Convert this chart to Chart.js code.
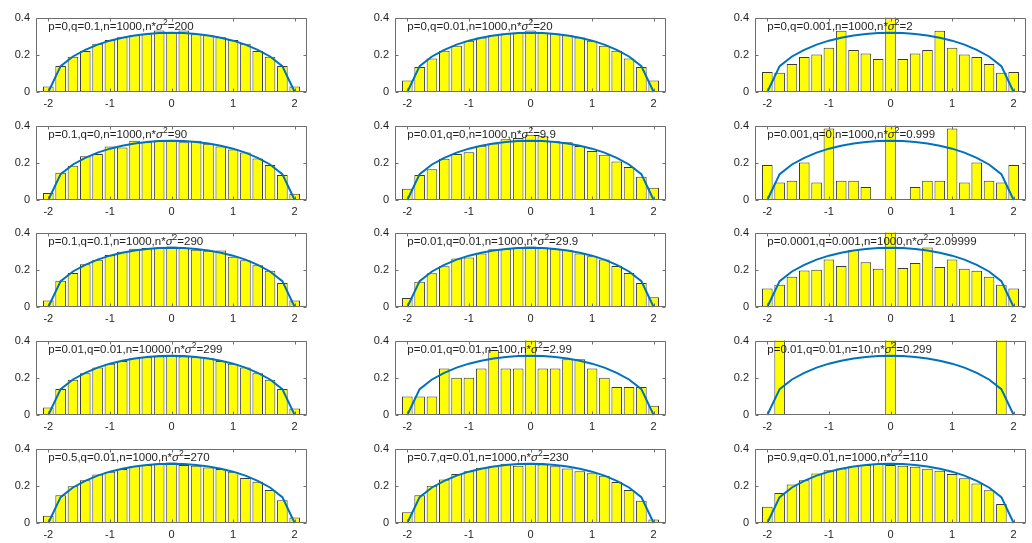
<!DOCTYPE html>
<html>
<head>
<meta charset="utf-8">
<script src="https://cdn.jsdelivr.net/npm/chart.js@4.4.1/dist/chart.umd.min.js"></script>
<style>
  html, body { margin: 0; padding: 0; background: #fff; }
  #figure { position: relative; width: 1032px; height: 543px; overflow: hidden; }
  #figure canvas { position: absolute; }
</style>
</head>
<body>
<div id="figure"></div>
<script>
// bin centres shared by every histogram
const binCenters = [-2, -1.8, -1.6, -1.4, -1.2, -1, -0.8, -0.6, -0.4, -0.2, 0, 0.2, 0.4, 0.6, 0.8, 1, 1.2, 1.4, 1.6, 1.8, 2];
// semicircle density read at the same centres
const semicircle = [0, 0.139, 0.191, 0.227, 0.255, 0.276, 0.292, 0.304, 0.312, 0.317, 0.318, 0.317, 0.312, 0.304, 0.292, 0.276, 0.255, 0.227, 0.191, 0.139, 0];

const xTicks = [-2, -1, 0, 1, 2];
const yTicks = [0, 0.2, 0.4];
const yTickLabels = ['0', '0.2', '0.4'];

// panel parameters, row by row (left to right)
const pVals = ['0', '0', '0', '0.1', '0.01', '0.001', '0.1', '0.01', '0.0001', '0.01', '0.01', '0.01', '0.5', '0.7', '0.9'];
const qVals = ['0.1', '0.01', '0.001', '0', '0', '0', '0.1', '0.01', '0.001', '0.01', '0.01', '0.01', '0.01', '0.01', '0.01'];
const nVals = ['1000', '1000', '1000', '1000', '1000', '1000', '1000', '1000', '1000', '10000', '100', '10', '1000', '1000', '1000'];
const nSigma2 = ['200', '20', '2', '90', '9.9', '0.999', '290', '29.9', '2.09999', '299', '2.99', '0.299', '270', '230', '110'];

// histogram heights (bars above 0.4 are cut by the axes)
const histR1C1 = [0.03, 0.14, 0.19, 0.22, 0.26, 0.28, 0.295, 0.305, 0.31, 0.33, 0.32, 0.33, 0.31, 0.305, 0.295, 0.28, 0.26, 0.22, 0.19, 0.14, 0.03];
const histR1C2 = [0.062, 0.134, 0.18, 0.222, 0.248, 0.276, 0.293, 0.305, 0.314, 0.319, 0.331, 0.319, 0.314, 0.305, 0.293, 0.276, 0.248, 0.222, 0.18, 0.134, 0.062];
const histR1C3 = [0.107, 0.103, 0.15, 0.188, 0.202, 0.238, 0.329, 0.226, 0.207, 0.178, 0.45, 0.178, 0.207, 0.226, 0.329, 0.238, 0.202, 0.188, 0.15, 0.103, 0.107];
const histR2C1 = [0.038, 0.146, 0.184, 0.235, 0.247, 0.287, 0.282, 0.318, 0.311, 0.32, 0.32, 0.311, 0.318, 0.303, 0.287, 0.271, 0.256, 0.223, 0.188, 0.134, 0.033];
const histR2C2 = [0.06, 0.134, 0.165, 0.222, 0.247, 0.257, 0.292, 0.304, 0.327, 0.334, 0.351, 0.343, 0.316, 0.31, 0.29, 0.263, 0.243, 0.207, 0.177, 0.125, 0.066];
const histR2C3 = [0.188, 0.094, 0.104, 0.202, 0.094, 0.385, 0.104, 0.104, 0.07, 0, 0.45, 0, 0.07, 0.104, 0.104, 0.385, 0.094, 0.202, 0.104, 0.094, 0.188];
const histR3C1 = [0.035, 0.141, 0.183, 0.23, 0.254, 0.28, 0.297, 0.313, 0.317, 0.32, 0.325, 0.317, 0.308, 0.303, 0.304, 0.27, 0.252, 0.224, 0.195, 0.129, 0.035];
const histR3C2 = [0.049, 0.136, 0.181, 0.219, 0.261, 0.266, 0.287, 0.311, 0.311, 0.32, 0.325, 0.32, 0.311, 0.308, 0.287, 0.273, 0.256, 0.221, 0.183, 0.129, 0.052];
const histR3C3 = [0.099, 0.12, 0.163, 0.196, 0.2, 0.256, 0.22, 0.306, 0.24, 0.205, 0.45, 0.21, 0.237, 0.32, 0.215, 0.256, 0.205, 0.195, 0.163, 0.12, 0.099];
const histR4C1 = [0.04, 0.14, 0.19, 0.225, 0.255, 0.275, 0.29, 0.305, 0.31, 0.315, 0.318, 0.315, 0.31, 0.305, 0.29, 0.275, 0.255, 0.225, 0.19, 0.14, 0.035];
const histR4C2 = [0.1, 0.1, 0.1, 0.25, 0.2, 0.2, 0.25, 0.35, 0.25, 0.25, 0.45, 0.25, 0.25, 0.3, 0.3, 0.25, 0.2, 0.15, 0.15, 0.15, 0.05];
const histR4C3 = [0, 0.6, 0, 0, 0, 0, 0, 0, 0, 0, 0.6, 0, 0, 0, 0, 0, 0, 0, 0, 0.6, 0];
const histR5C1 = [0.039, 0.149, 0.197, 0.23, 0.261, 0.275, 0.29, 0.305, 0.312, 0.32, 0.325, 0.312, 0.308, 0.298, 0.29, 0.275, 0.242, 0.222, 0.178, 0.122, 0.029];
const histR5C2 = [0.058, 0.149, 0.2, 0.234, 0.263, 0.278, 0.297, 0.305, 0.319, 0.308, 0.319, 0.314, 0.305, 0.293, 0.278, 0.268, 0.254, 0.22, 0.178, 0.119, 0.019];
const histR5C3 = [0.088, 0.161, 0.207, 0.23, 0.266, 0.283, 0.293, 0.305, 0.312, 0.317, 0.312, 0.308, 0.302, 0.292, 0.281, 0.263, 0.241, 0.212, 0.176, 0.102, 0.005];

const histograms = [
  histR1C1, histR1C2, histR1C3,
  histR2C1, histR2C2, histR2C3,
  histR3C1, histR3C2, histR3C3,
  histR4C1, histR4C2, histR4C3,
  histR5C1, histR5C2, histR5C3
];

// layout of the plot boxes in the page
const colLefts = [36, 395, 755];
const rowTops = [15, 123, 230, 338, 446];
const plotW = 271;
const plotH = 77;
const yAxisW = 40;
const xAxisH = 22;
const padTop = 10;
const padRight = 8;

const FONT = '"Liberation Sans", Arial, sans-serif';
const TEXT_COLOR = '#1f1f1f';
const BOX_COLOR = '#6e6e6e';

// box, inward ticks and the panel label, MATLAB style
const axesDecor = {
  id: 'axesDecor',
  afterDatasetsDraw(chart, args, opts) {
    const { ctx, chartArea: a, scales } = chart;
    const xs = scales.x, ys = scales.y;
    const l = Math.round(a.left) + 0.5, r = Math.round(a.right) - 0.5;
    const t = Math.round(a.top) + 0.5, b = Math.round(a.bottom) - 0.5;
    ctx.save();
    ctx.strokeStyle = BOX_COLOR;
    ctx.lineWidth = 1;
    ctx.beginPath();
    ctx.rect(l, t, r - l, b - t);
    const tl = 3;
    xTicks.forEach(v => {
      const px = Math.round(xs.getPixelForValue(v)) + 0.5;
      ctx.moveTo(px, b); ctx.lineTo(px, b - tl);
      ctx.moveTo(px, t); ctx.lineTo(px, t + tl);
    });
    yTicks.forEach(v => {
      const py = Math.round(ys.getPixelForValue(v)) + 0.5;
      ctx.moveTo(l, py); ctx.lineTo(l + tl, py);
      ctx.moveTo(r, py); ctx.lineTo(r - tl, py);
    });
    ctx.stroke();

    // label: p=..,q=..,n=..,n*σ²=..
    const i = opts.index;
    let tx = xs.getPixelForValue(-2);
    const ty = ys.getPixelForValue(0.35);
    ctx.fillStyle = TEXT_COLOR;
    ctx.textBaseline = 'middle';
    ctx.textAlign = 'left';
    const head = 'p=' + pVals[i] + ',q=' + qVals[i] + ',n=' + nVals[i] + ',n*';
    ctx.font = '11.5px ' + FONT;
    ctx.fillText(head, tx, ty);
    tx += ctx.measureText(head).width;
    ctx.font = 'italic 11.5px ' + FONT;
    ctx.fillText('\u03C3', tx, ty);
    tx += ctx.measureText('\u03C3').width;
    ctx.font = '8.5px ' + FONT;
    ctx.fillText('2', tx, ty - 4.5);
    tx += ctx.measureText('2').width;
    ctx.font = '11.5px ' + FONT;
    ctx.fillText('=' + nSigma2[i], tx, ty);
    ctx.restore();
  }
};

function makePanel(index) {
  const row = Math.floor(index / 3), col = index % 3;
  const canvas = document.createElement('canvas');
  canvas.width = yAxisW + plotW + padRight;
  canvas.height = padTop + plotH + xAxisH;
  canvas.style.left = (colLefts[col] - yAxisW) + 'px';
  canvas.style.top = (rowTops[row] - padTop) + 'px';
  document.getElementById('figure').appendChild(canvas);

  const bars = histograms[index];
  return new Chart(canvas, {
    type: 'bar',
    data: {
      datasets: [
        {
          type: 'line',
          data: binCenters.map((x, k) => ({ x: x, y: semicircle[k] })),
          borderColor: '#0072BD',
          borderWidth: 2,
          pointRadius: 0,
          tension: 0,
          order: 0,
          clip: 3
        },
        {
          type: 'bar',
          data: binCenters.map((x, k) => ({ x: x, y: bars[k] })),
          backgroundColor: '#ffff00',
          borderColor: '#3a3a3a',
          borderWidth: 1,
          borderSkipped: false,
          barPercentage: 0.86,
          categoryPercentage: 1,
          order: 1,
          clip: 0
        }
      ]
    },
    options: {
      responsive: false,
      animation: false,
      events: [],
      layout: { padding: { top: padTop, right: padRight, left: 0, bottom: 0 } },
      plugins: {
        legend: { display: false },
        tooltip: { enabled: false },
        axesDecor: { index: index }
      },
      scales: {
        x: {
          type: 'linear',
          min: -2.2,
          max: 2.2,
          offset: false,
          grid: { display: false, drawTicks: false },
          border: { display: false },
          afterBuildTicks: s => { s.ticks = xTicks.map(v => ({ value: v })); },
          afterFit: s => { s.height = xAxisH; },
          ticks: {
            padding: 5,
            color: TEXT_COLOR,
            font: { family: FONT, size: 11 },
            maxRotation: 0,
            autoSkip: false,
            callback: v => String(v)
          }
        },
        y: {
          min: 0,
          max: 0.4,
          grid: { display: false, drawTicks: false },
          border: { display: false },
          afterBuildTicks: s => { s.ticks = yTicks.map(v => ({ value: v })); },
          afterFit: s => { s.width = yAxisW; },
          ticks: {
            padding: 6,
            color: TEXT_COLOR,
            font: { family: FONT, size: 11 },
            callback: v => yTickLabels[yTicks.indexOf(v)]
          }
        }
      }
    },
    plugins: [axesDecor]
  });
}

for (let i = 0; i < histograms.length; i++) {
  makePanel(i);
}
</script>
</body>
</html>
